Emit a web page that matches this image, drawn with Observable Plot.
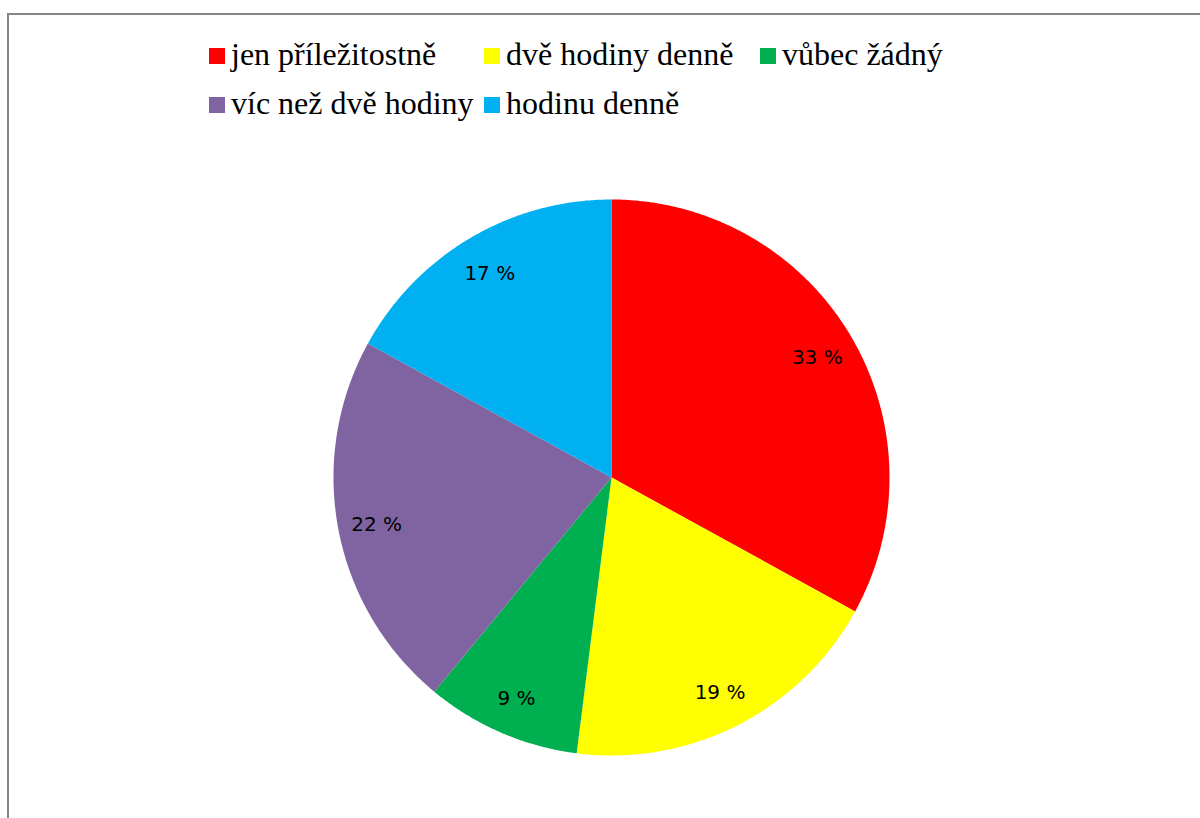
<!DOCTYPE html>
<html>
<head>
<meta charset="utf-8">
<script src="https://cdn.jsdelivr.net/npm/d3@7"></script>
<script src="https://cdn.jsdelivr.net/npm/@observablehq/plot@0.6"></script>
<style>
  html, body { margin: 0; padding: 0; background: #fff; }
  #wrap { position: relative; width: 1200px; height: 818px; overflow: hidden; }
  #frame { position: absolute; left: 7px; top: 13px; width: 1300px; height: 900px; border: 2px solid #868686; box-sizing: border-box; }
  #chart { position: absolute; left: 0; top: 0; }
  .lg { position: absolute; font-family: "Liberation Serif", "Times New Roman", serif; font-size: 32px; line-height: 32px; color: #000; white-space: nowrap; }
  .lg .sw { position: absolute; left: 0; top: 0; width: 16px; height: 16px; }
  .lg .tx { position: absolute; left: 22px; top: -10px; }
</style>
</head>
<body>
<div id="wrap">
  <div id="frame"></div>
  <div id="chart"></div>
  <div id="legend"></div>
</div>
<script>
const categories = ["jen příležitostně", "dvě hodiny denně", "vůbec žádný", "víc než dvě hodiny", "hodinu denně"];
const values = [33, 19, 9, 22, 17];
const colors = ["#ff0000", "#ffff00", "#00b050", "#8064a2", "#00b0f0"];
const valueLabels = ["33 %", "19 %", "9 %", "22 %", "17 %"];

const arcs = d3.pie().sort(null).value(d => d)(values);

const slices = arcs.map((a, i) => {
  const pts = [[0, 0]];
  const n = Math.max(4, Math.ceil((a.endAngle - a.startAngle) / 0.01));
  for (let k = 0; k <= n; k++) {
    const t = a.startAngle + (a.endAngle - a.startAngle) * k / n;
    pts.push([Math.sin(t), -Math.cos(t)]);
  }
  pts.push([0, 0]);
  return {type: "Feature", properties: {category: categories[i]}, geometry: {type: "Polygon", coordinates: [pts]}};
});

const labelRadius = 0.86;
const labelData = arcs.map((a, i) => {
  const m = (a.startAngle + a.endAngle) / 2;
  return {x: labelRadius * Math.sin(m), y: -labelRadius * Math.cos(m), label: valueLabels[i]};
});

const domain = {type: "Polygon", coordinates: [[[-1, -1], [1, -1], [1, 1], [-1, 1], [-1, -1]]]};

const chart = Plot.plot({
  width: 1200,
  height: 818,
  marginLeft: 333,
  marginRight: 311,
  marginTop: 199,
  marginBottom: 63,
  projection: {type: "identity", domain},
  color: {domain: categories, range: colors},
  style: {background: "transparent"},
  marks: [
    Plot.geo(slices, {fill: d => d.properties.category}),
    Plot.text(labelData, {x: "x", y: "y", text: "label", dy: 2, fontSize: 20, fontFamily: "DejaVu Sans", fill: "#000"})
  ]
});
document.getElementById("chart").appendChild(chart);

// Legend (HTML, above the SVG)
const legendPos = [[209, 48], [484, 48], [760, 48], [209, 97], [484, 97]];
const lg = document.getElementById("legend");
categories.forEach((c, i) => {
  const el = document.createElement("div");
  el.className = "lg";
  el.style.left = legendPos[i][0] + "px";
  el.style.top = legendPos[i][1] + "px";
  el.innerHTML = `<div class="sw" style="background:${colors[i]}"></div><div class="tx">${c}</div>`;
  lg.appendChild(el);
});
</script>
</body>
</html>
